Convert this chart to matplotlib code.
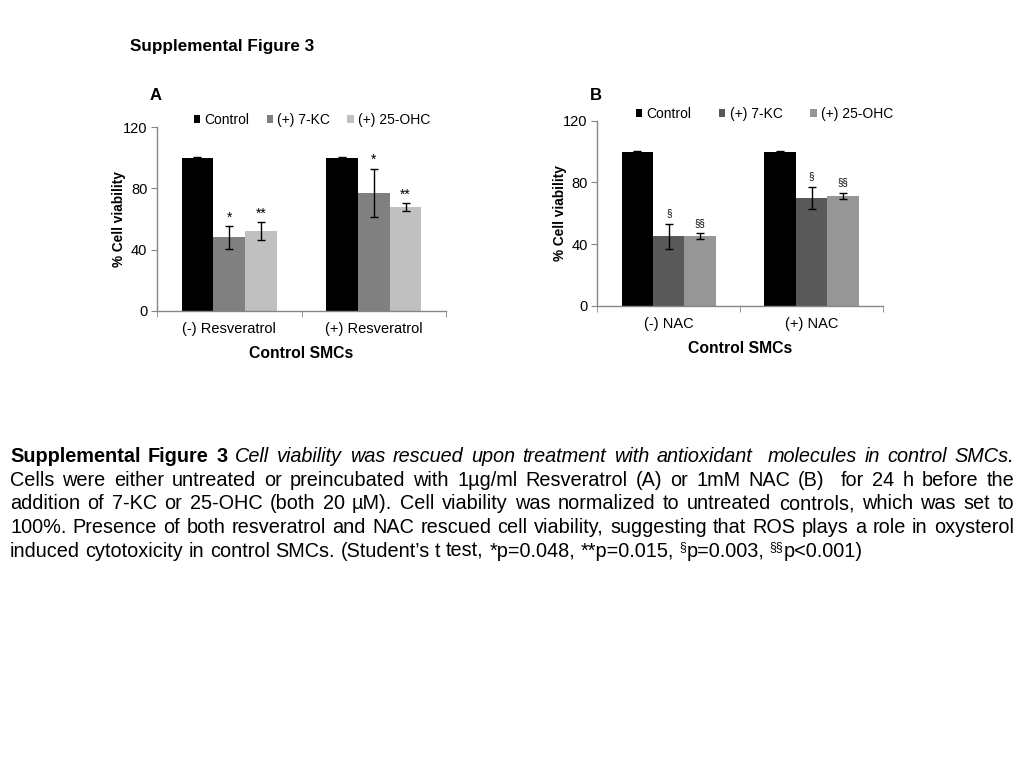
import matplotlib
matplotlib.use('Agg')
import matplotlib.pyplot as plt
from matplotlib.patches import Patch
import numpy as np

plt.rcParams['font.family'] = ['Liberation Sans', 'DejaVu Sans']

# ---------------- data ----------------
series = ['Control', '(+) 7-KC', '(+) 25-OHC']

cats_a = ['(-) Resveratrol', '(+) Resveratrol']
ctrl_a = [100, 100]
kc_a = [48, 77]
ohc_a = [52, 68]
ctrl_a_err = [0.3, 0.3]
kc_a_err = [7.6, 16]
ohc_a_err = [6, 2.5]
kc_a_sig = ['*', '*']
ohc_a_sig = ['**', '**']

cats_b = ['(-) NAC', '(+) NAC']
ctrl_b = [100, 100]
kc_b = [45, 70]
ohc_b = [45, 71]
ctrl_b_err = [0.3, 0.3]
kc_b_err = [8, 7]
ohc_b_err = [2, 2]
kc_b_sig = ['§', '§']
ohc_b_sig = ['§§', '§§']

yticks = [0, 40, 80, 120]

colors_a = ['#000000', '#808080', '#c0c0c0']
colors_b = ['#000000', '#595959', '#969696']

W, H = 1024, 768
fig = plt.figure(figsize=(W / 100, H / 100), dpi=100)


def fx(px):
    return px / W


def fy(py):
    return 1 - py / H


def panel(rect, cats, vals, errs, sigs, colors, sig_size, sig_off, legend_pos, colsp):
    ax = fig.add_axes(rect)
    x = np.arange(len(cats))
    bw = 0.22
    for i, (v, e, c) in enumerate(zip(vals, errs, colors)):
        pos = x + (i - 1) * bw
        ax.bar(pos, v, bw, color=c, edgecolor='none', zorder=2)
        ax.errorbar(pos, v, yerr=e, fmt='none', ecolor='black', elinewidth=1,
                    capsize=2.6, capthick=1, zorder=3)
        if sigs[i] is not None:
            for p, vv, ee, s in zip(pos, v, e, sigs[i]):
                ax.annotate(s, xy=(p, vv + ee), xytext=(0, sig_off),
                            textcoords='offset points', ha='center', va='bottom',
                            fontsize=sig_size)
    ax.set_xlim(-0.5, len(cats) - 0.5)
    ax.set_ylim(0, 120)
    ax.set_yticks(yticks)
    ax.set_yticklabels([str(t) for t in yticks], fontsize=10.5)
    ax.set_xticks(x)
    ax.set_xticklabels(cats, fontsize=10.5)
    ax.set_xticks(np.arange(-0.5, len(cats), 1.0), minor=True)
    ax.tick_params(axis='x', which='major', length=0, pad=8)
    ax.tick_params(axis='x', which='minor', length=4, color='#868686', direction='out')
    ax.tick_params(axis='y', length=4, color='#868686', pad=3, direction='out')
    for s in ['top', 'right']:
        ax.spines[s].set_visible(False)
    for s in ['left', 'bottom']:
        ax.spines[s].set_color('#868686')
        ax.spines[s].set_linewidth(1)
    ax.set_ylabel('% Cell viability', fontsize=9.8, fontweight='bold', labelpad=-2.5)
    ax.set_xlabel('Control SMCs', fontsize=11.3, fontweight='bold', labelpad=7)
    handles = [Patch(facecolor=c, edgecolor='none') for c in colors]
    fig.legend(handles, series, loc='center left', bbox_to_anchor=legend_pos,
               ncol=3, frameon=False, fontsize=10, handlelength=0.45,
               handleheight=0.45, handletextpad=0.3, columnspacing=colsp,
               borderpad=0, borderaxespad=0)
    return ax


ax_a = panel([fx(157), fy(310.7), fx(446) - fx(157), fy(127.3) - fy(310.7)],
             cats_a, [ctrl_a, kc_a, ohc_a], [ctrl_a_err, kc_a_err, ohc_a_err],
             [None, kc_a_sig, ohc_a_sig], colors_a, 10, 1,
             (fx(194), fy(120)), 1.25)
ax_b = panel([fx(597.3), fy(305.7), fx(883) - fx(597.3), fy(120.7) - fy(305.7)],
             cats_b, [ctrl_b, kc_b, ohc_b], [ctrl_b_err, kc_b_err, ohc_b_err],
             [None, kc_b_sig, ohc_b_sig], colors_b, 7, 4,
             (fx(636), fy(114)), 2.0)

fig.text(fx(130), fy(46), 'Supplemental Figure 3', fontsize=12.3, fontweight='bold',
         ha='left', va='center')
fig.text(fx(156), fy(95), 'A', fontsize=12, fontweight='bold', ha='center', va='center')
fig.text(fx(596), fy(95), 'B', fontsize=12, fontweight='bold', ha='center', va='center')

# ---------------- caption (justified) ----------------
cap_lines = [
    [('Supplemental Figure 3', 'b'),
     (' Cell viability was rescued upon treatment with antioxidant  molecules in control SMCs.', 'i')],
    [('Cells were either untreated or preincubated with 1µg/ml Resveratrol (A) or 1mM NAC (B)  for 24 h before the', 'r')],
    [('addition of 7-KC or 25-OHC (both 20 µM). Cell viability was normalized to untreated controls, which was set to', 'r')],
    [('100%. Presence of both resveratrol and NAC rescued cell viability, suggesting that ROS plays a role in oxysterol', 'r')],
    [('induced cytotoxicity in control SMCs. (Student’s t test, *p=0.048, **p=0.015, ', 'r'),
     ('§', 's'), ('p=0.003, ', 'r'), ('§§', 's'), ('p<0.001)', 'r')],
]
cap_justify = [True, True, True, True, False]
cap_base = [462, 485.7, 509.4, 533.1, 556.8]
cap_fs = 14.3
x_left, x_right = 10, 1014

renderer = fig.canvas.get_renderer()


def style_kw(st):
    if st == 'b':
        return dict(fontsize=cap_fs, fontweight='bold')
    if st == 'i':
        return dict(fontsize=cap_fs, fontstyle='italic')
    if st == 's':
        return dict(fontsize=cap_fs * 0.62)
    return dict(fontsize=cap_fs)


_cache = {}


def _raw(s, st):
    key = (s, st)
    if key not in _cache:
        t = fig.text(0, 0, s, **style_kw(st))
        _cache[key] = t.get_window_extent(renderer).width
        t.remove()
    return _cache[key]


def measure(s, st):
    # advance width: bracket the string with bars so side bearings count
    if s == '':
        return 0.0
    return _raw('|' + s + '|', st) - _raw('||', st)


space_w = measure(' ', 'r')

for segs, just, base in zip(cap_lines, cap_justify, cap_base):
    words = [[]]
    for s, st in segs:
        parts = s.split(' ')
        for k, p in enumerate(parts):
            if k > 0:
                words.append([])
            if p:
                words[-1].append((p, st))
    if words and words[0] == []:
        words = words[1:]
    if words and words[-1] == []:
        words = words[:-1]
    widths = [sum(measure(p, st) for p, st in w) for w in words]
    total = sum(widths)
    if just:
        gap = (x_right - x_left - total) / (len(words) - 1)
    else:
        gap = space_w
    xp = x_left
    for w, ww in zip(words, widths):
        xx = xp
        for p, st in w:
            yy = base - (7 if st == 's' else 0)
            fig.text(fx(xx), fy(yy), p, ha='left', va='baseline', **style_kw(st))
            xx += measure(p, st)
        xp += ww + gap

fig.savefig('out.png', dpi=100)
